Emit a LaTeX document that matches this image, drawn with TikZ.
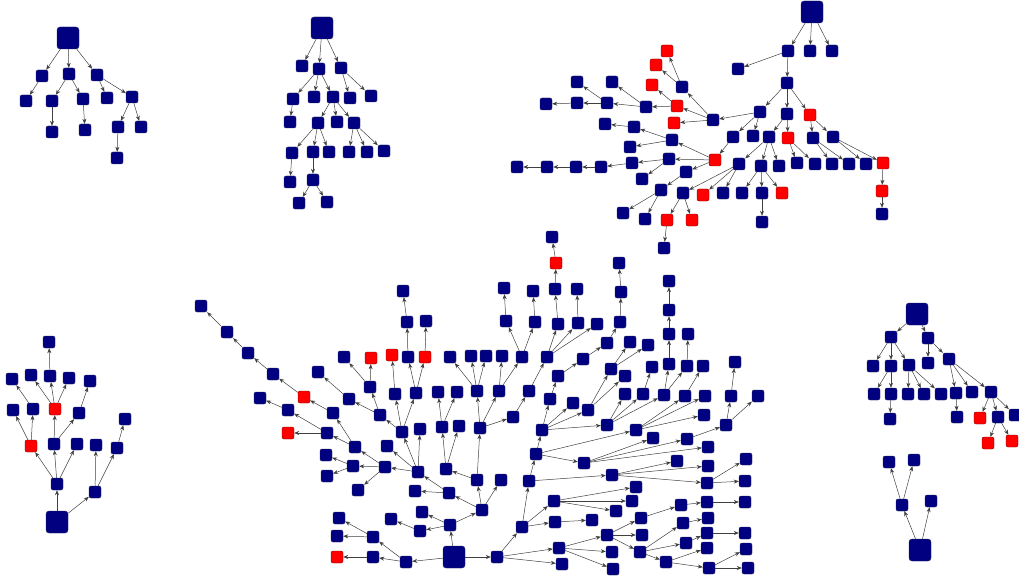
\documentclass[tikz,border=0pt]{standalone}
\usepackage{tikz}
\usetikzlibrary{arrows.meta}
\usepackage{xcolor}
\definecolor{navy}{RGB}{0,0,128}
\definecolor{navyline}{RGB}{40,40,90}
\tikzstyle{vx} = [rectangle, rounded corners=2pt, minimum size=12pt, inner sep=0pt, draw=navyline, line width=0.4pt, fill=navy]
\tikzstyle{vxr} = [vx, draw=red!45!black, fill=red]
\tikzstyle{root} = [vx, minimum size=22pt, rounded corners=3pt]
\tikzstyle{arrow} = [->, >={Stealth[length=5pt,width=4pt]}, draw=black!75, line width=0.5pt]

\begin{document}
\begin{tikzpicture}[x=1pt, y=-1pt]
\useasboundingbox (0,0) rectangle (1019,580);

% top left tree
\node (a0) [root] at (68,38) {};
\node (a1) [vx] at (42,76) {};
\node (a2) [vx] at (69,74) {};
\node (a3) [vx] at (97,75) {};
\node (a4) [vx] at (26,101) {};
\node (a5) [vx] at (52,101) {};
\node (a6) [vx] at (83,99) {};
\node (a7) [vx] at (52,132) {};
\node (a8) [vx] at (85,130) {};
\node (a9) [vx] at (107,98) {};
\node (a10) [vx] at (132,97) {};
\node (a11) [vx] at (118,127) {};
\node (a12) [vx] at (141,127) {};
\node (a13) [vx] at (117,158) {};
\draw [arrow] (a0) -- (a1);
\draw [arrow] (a0) -- (a2);
\draw [arrow] (a0) -- (a3);
\draw [arrow] (a1) -- (a4);
\draw [arrow] (a2) -- (a5);
\draw [arrow] (a2) -- (a6);
\draw [arrow] (a5) -- (a7);
\draw [arrow] (a6) -- (a8);
\draw [arrow] (a3) -- (a9);
\draw [arrow] (a3) -- (a10);
\draw [arrow] (a10) -- (a11);
\draw [arrow] (a10) -- (a12);
\draw [arrow] (a11) -- (a13);

% top middle tree
\node (b0) [root] at (322,28) {};
\node (b1) [vx] at (302,66) {};
\node (b2) [vx] at (319,69) {};
\node (b3) [vx] at (341,68) {};
\node (b4) [vx] at (293,99) {};
\node (b5) [vx] at (314,97) {};
\node (b6) [vx] at (333,97) {};
\node (b7) [vx] at (350,98) {};
\node (b8) [vx] at (371,96) {};
\node (b9) [vx] at (290,122) {};
\node (b10) [vx] at (318,123) {};
\node (b11) [vx] at (337,122) {};
\node (b12) [vx] at (354,123) {};
\node (b13) [vx] at (292,153) {};
\node (b14) [vx] at (313,152) {};
\node (b15) [vx] at (329,152) {};
\node (b16) [vx] at (349,152) {};
\node (b17) [vx] at (367,152) {};
\node (b18) [vx] at (384,151) {};
\node (b19) [vx] at (290,182) {};
\node (b20) [vx] at (313,180) {};
\node (b21) [vx] at (299,203) {};
\node (b22) [vx] at (327,202) {};
\draw [arrow] (b0) -- (b1);
\draw [arrow] (b0) -- (b2);
\draw [arrow] (b0) -- (b3);
\draw [arrow] (b2) -- (b4);
\draw [arrow] (b2) -- (b5);
\draw [arrow] (b2) -- (b6);
\draw [arrow] (b3) -- (b7);
\draw [arrow] (b3) -- (b8);
\draw [arrow] (b4) -- (b9);
\draw [arrow] (b6) -- (b10);
\draw [arrow] (b6) -- (b11);
\draw [arrow] (b6) -- (b12);
\draw [arrow] (b10) -- (b13);
\draw [arrow] (b10) -- (b14);
\draw [arrow] (b10) -- (b15);
\draw [arrow] (b12) -- (b16);
\draw [arrow] (b12) -- (b17);
\draw [arrow] (b12) -- (b18);
\draw [arrow] (b13) -- (b19);
\draw [arrow] (b14) -- (b20);
\draw [arrow] (b20) -- (b21);
\draw [arrow] (b20) -- (b22);

% top right tree
\node (c0) [root] at (812,12) {};
\node (c1) [vx] at (788,51) {};
\node (c2) [vx] at (810,51) {};
\node (c3) [vx] at (832,51) {};
\node (c4) [vx] at (738,69) {};
\node (c5) [vx] at (787,83) {};
\node (c6) [vx] at (760,112) {};
\node (c7) [vx] at (787,114) {};
\node (c8) [vxr] at (810,115) {};
\node (c9) [vx] at (713,120) {};
\node (c10) [vx] at (733,137) {};
\node (c11) [vx] at (753,136) {};
\node (c12) [vx] at (769,137) {};
\node (c13) [vxr] at (788,138) {};
\node (c14) [vx] at (813,138) {};
\node (c15) [vx] at (833,137) {};
\node (c16) [vxr] at (715,160) {};
\node (c17) [vx] at (739,164) {};
\node (c18) [vx] at (761,166) {};
\node (c19) [vx] at (779,166) {};
\node (c20) [vx] at (797,163) {};
\node (c21) [vx] at (815,164) {};
\node (c22) [vx] at (832,164) {};
\node (c23) [vx] at (849,164) {};
\node (c24) [vx] at (866,164) {};
\node (c25) [vxr] at (883,163) {};
\node (c26) [vxr] at (882,191) {};
\node (c27) [vx] at (882,214) {};
\node (c28) [vxr] at (703,195) {};
\node (c29) [vx] at (723,193) {};
\node (c30) [vx] at (683,193) {};
\node (c31) [vx] at (742,193) {};
\node (c32) [vx] at (762,193) {};
\node (c33) [vxr] at (782,193) {};
\node (c34) [vx] at (762,222) {};
\node (c35) [vx] at (682,87) {};
\node (c36) [vxr] at (677,106) {};
\node (c37) [vxr] at (674,123) {};
\node (c38) [vxr] at (667,51) {};
\node (c39) [vxr] at (656,65) {};
\node (c40) [vxr] at (652,85) {};
\node (c41) [vx] at (646,107) {};
\node (c42) [vx] at (607,103) {};
\node (c43) [vx] at (612,82) {};
\node (c44) [vx] at (577,103) {};
\node (c45) [vx] at (577,82) {};
\node (c46) [vx] at (546,104) {};
\node (c47) [vx] at (672,140) {};
\node (c48) [vx] at (669,159) {};
\node (c49) [vx] at (686,172) {};
\node (c50) [vx] at (634,127) {};
\node (c51) [vx] at (630,147) {};
\node (c52) [vx] at (605,124) {};
\node (c53) [vx] at (632,163) {};
\node (c54) [vx] at (642,179) {};
\node (c55) [vx] at (601,167) {};
\node (c56) [vx] at (576,167) {};
\node (c57) [vx] at (547,167) {};
\node (c58) [vx] at (517,167) {};
\node (c59) [vx] at (661,190) {};
\node (c60) [vx] at (623,213) {};
\node (c61) [vx] at (645,219) {};
\node (c62) [vxr] at (667,220) {};
\node (c63) [vxr] at (692,220) {};
\node (c64) [vx] at (664,248) {};
\draw [arrow] (c0) -- (c1);
\draw [arrow] (c0) -- (c2);
\draw [arrow] (c0) -- (c3);
\draw [arrow] (c1) -- (c4);
\draw [arrow] (c1) -- (c5);
\draw [arrow] (c5) -- (c6);
\draw [arrow] (c5) -- (c7);
\draw [arrow] (c5) -- (c8);
\draw [arrow] (c6) -- (c9);
\draw [arrow] (c6) -- (c10);
\draw [arrow] (c6) -- (c11);
\draw [arrow] (c7) -- (c12);
\draw [arrow] (c7) -- (c13);
\draw [arrow] (c8) -- (c14);
\draw [arrow] (c8) -- (c15);
\draw [arrow] (c10) -- (c16);
\draw [arrow] (c12) -- (c17);
\draw [arrow] (c12) -- (c18);
\draw [arrow] (c12) -- (c19);
\draw [arrow] (c13) -- (c20);
\draw [arrow] (c13) -- (c21);
\draw [arrow] (c14) -- (c22);
\draw [arrow] (c14) -- (c23);
\draw [arrow] (c15) -- (c24);
\draw [arrow] (c15) -- (c25);
\draw [arrow] (c25) -- (c26);
\draw [arrow] (c26) -- (c27);
\draw [arrow] (c17) -- (c28);
\draw [arrow] (c17) -- (c29);
\draw [arrow] (c17) -- (c30);
\draw [arrow] (c18) -- (c31);
\draw [arrow] (c18) -- (c32);
\draw [arrow] (c18) -- (c33);
\draw [arrow] (c32) -- (c34);
\draw [arrow] (c9) -- (c35);
\draw [arrow] (c9) -- (c36);
\draw [arrow] (c9) -- (c37);
\draw [arrow] (c35) -- (c38);
\draw [arrow] (c35) -- (c39);
\draw [arrow] (c36) -- (c40);
\draw [arrow] (c36) -- (c41);
\draw [arrow] (c41) -- (c42);
\draw [arrow] (c41) -- (c43);
\draw [arrow] (c42) -- (c44);
\draw [arrow] (c42) -- (c45);
\draw [arrow] (c44) -- (c46);
\draw [arrow] (c16) -- (c47);
\draw [arrow] (c16) -- (c48);
\draw [arrow] (c16) -- (c49);
\draw [arrow] (c47) -- (c50);
\draw [arrow] (c47) -- (c51);
\draw [arrow] (c50) -- (c52);
\draw [arrow] (c48) -- (c53);
\draw [arrow] (c48) -- (c54);
\draw [arrow] (c53) -- (c55);
\draw [arrow] (c55) -- (c56);
\draw [arrow] (c56) -- (c57);
\draw [arrow] (c57) -- (c58);
\draw [arrow] (c49) -- (c59);
\draw [arrow] (c59) -- (c60);
\draw [arrow] (c59) -- (c61);
\draw [arrow] (c30) -- (c62);
\draw [arrow] (c30) -- (c63);
\draw [arrow] (c62) -- (c64);

% bottom left tree
\node (d0) [root] at (57,522) {};
\node (d1) [vx] at (57,484) {};
\node (d2) [vx] at (95,492) {};
\node (d3) [vxr] at (31,446) {};
\node (d4) [vx] at (54,444) {};
\node (d5) [vx] at (77,444) {};
\node (d6) [vx] at (96,445) {};
\node (d7) [vx] at (117,448) {};
\node (d8) [vx] at (125,419) {};
\node (d9) [vx] at (13,410) {};
\node (d10) [vx] at (33,409) {};
\node (d11) [vxr] at (55,409) {};
\node (d12) [vx] at (79,413) {};
\node (d13) [vx] at (90,381) {};
\node (d14) [vx] at (12,379) {};
\node (d15) [vx] at (31,375) {};
\node (d16) [vx] at (50,376) {};
\node (d17) [vx] at (69,378) {};
\node (d18) [vx] at (49,342) {};
\draw [arrow] (d0) -- (d1);
\draw [arrow] (d0) -- (d2);
\draw [arrow] (d1) -- (d3);
\draw [arrow] (d1) -- (d4);
\draw [arrow] (d1) -- (d5);
\draw [arrow] (d2) -- (d6);
\draw [arrow] (d2) -- (d7);
\draw [arrow] (d7) -- (d8);
\draw [arrow] (d3) -- (d9);
\draw [arrow] (d3) -- (d10);
\draw [arrow] (d4) -- (d11);
\draw [arrow] (d4) -- (d12);
\draw [arrow] (d12) -- (d13);
\draw [arrow] (d10) -- (d14);
\draw [arrow] (d11) -- (d15);
\draw [arrow] (d11) -- (d16);
\draw [arrow] (d11) -- (d17);
\draw [arrow] (d16) -- (d18);

% right trees
\node (e0) [root] at (917,314) {};
\node (e1) [vx] at (891,337) {};
\node (e2) [vx] at (928,338) {};
\node (e3) [vx] at (873,366) {};
\node (e4) [vx] at (891,366) {};
\node (e5) [vx] at (909,365) {};
\node (e6) [vx] at (874,394) {};
\node (e7) [vx] at (891,394) {};
\node (e8) [vx] at (890,419) {};
\node (e9) [vx] at (908,394) {};
\node (e10) [vx] at (924,394) {};
\node (e11) [vx] at (941,394) {};
\node (e12) [vx] at (928,363) {};
\node (e13) [vx] at (949,359) {};
\node (e14) [vx] at (956,393) {};
\node (e15) [vx] at (972,392) {};
\node (e16) [vx] at (991,392) {};
\node (e17) [vx] at (957,417) {};
\node (e18) [vxr] at (980,418) {};
\node (e19) [vx] at (998,417) {};
\node (e20) [vx] at (1015,415) {};
\node (e21) [vxr] at (988,443) {};
\node (e22) [vxr] at (1012,441) {};
\draw [arrow] (e0) -- (e1);
\draw [arrow] (e0) -- (e2);
\draw [arrow] (e1) -- (e3);
\draw [arrow] (e1) -- (e4);
\draw [arrow] (e1) -- (e5);
\draw [arrow] (e4) -- (e6);
\draw [arrow] (e4) -- (e7);
\draw [arrow] (e7) -- (e8);
\draw [arrow] (e5) -- (e9);
\draw [arrow] (e5) -- (e10);
\draw [arrow] (e5) -- (e11);
\draw [arrow] (e2) -- (e12);
\draw [arrow] (e2) -- (e13);
\draw [arrow] (e13) -- (e14);
\draw [arrow] (e13) -- (e15);
\draw [arrow] (e13) -- (e16);
\draw [arrow] (e14) -- (e17);
\draw [arrow] (e16) -- (e18);
\draw [arrow] (e16) -- (e19);
\draw [arrow] (e16) -- (e20);
\draw [arrow] (e19) -- (e21);
\draw [arrow] (e19) -- (e22);

\node (f0) [root] at (920,550) {};
\node (f1) [vx] at (902,505) {};
\node (f2) [vx] at (931,501) {};
\node (f3) [vx] at (889,462) {};
\node (f4) [vx] at (914,460) {};
\draw [arrow] (f0) -- (f1);
\draw [arrow] (f0) -- (f2);
\draw [arrow] (f1) -- (f3);
\draw [arrow] (f1) -- (f4);

% big tree in the middle
\node (g0) [root] at (454,557) {};
\node (g1) [vx] at (450,525) {};
\node (g2) [vx] at (406,562) {};
\node (g3) [vx] at (497,557) {};
\node (g4) [vx] at (373,557) {};
\node (g5) [vx] at (373,537) {};
\node (g6) [vxr] at (337,557) {};
\node (g7) [vx] at (337,536) {};
\node (g8) [vx] at (339,518) {};
\node (g9) [vx] at (420,531) {};
\node (g10) [vx] at (422,512) {};
\node (g11) [vx] at (482,510) {};
\node (g12) [vx] at (391,519) {};
\node (g13) [vx] at (449,493) {};
\node (g14) [vx] at (477,480) {};
\node (g15) [vx] at (501,480) {};
\node (g16) [vx] at (415,491) {};
\node (g17) [vx] at (418,472) {};
\node (g18) [vx] at (385,467) {};
\node (g19) [vx] at (387,446) {};
\node (g20) [vx] at (402,432) {};
\node (g21) [vx] at (420,429) {};
\node (g22) [vx] at (353,466) {};
\node (g23) [vx] at (355,447) {};
\node (g24) [vx] at (358,490) {};
\node (g25) [vx] at (326,455) {};
\node (g26) [vx] at (327,476) {};
\node (g27) [vx] at (327,433) {};
\node (g28) [vx] at (333,413) {};
\node (g29) [vxr] at (288,433) {};
\node (g30) [vx] at (288,410) {};
\node (g31) [vx] at (260,398) {};
\node (g32) [vxr] at (304,397) {};
\node (g33) [vx] at (273,374) {};
\node (g34) [vx] at (248,353) {};
\node (g35) [vx] at (227,332) {};
\node (g36) [vx] at (201,306) {};
\node (g37) [vx] at (380,415) {};
\node (g38) [vx] at (395,394) {};
\node (g39) [vx] at (416,393) {};
\node (g40) [vx] at (349,399) {};
\node (g41) [vx] at (370,387) {};
\node (g42) [vx] at (318,372) {};
\node (g43) [vx] at (344,357) {};
\node (g44) [vxr] at (371,358) {};
\node (g45) [vxr] at (392,355) {};
\node (g46) [vx] at (408,357) {};
\node (g47) [vxr] at (425,357) {};
\node (g48) [vx] at (407,322) {};
\node (g49) [vx] at (403,291) {};
\node (g50) [vx] at (426,321) {};
\node (g51) [vx] at (446,469) {};
\node (g52) [vx] at (480,428) {};
\node (g53) [vx] at (442,427) {};
\node (g54) [vx] at (459,426) {};
\node (g55) [vx] at (438,392) {};
\node (g56) [vx] at (457,392) {};
\node (g57) [vx] at (477,391) {};
\node (g58) [vx] at (499,391) {};
\node (g59) [vx] at (513,417) {};
\node (g60) [vx] at (450,357) {};
\node (g61) [vx] at (471,356) {};
\node (g62) [vx] at (486,356) {};
\node (g63) [vx] at (502,356) {};
\node (g64) [vx] at (522,357) {};
\node (g65) [vx] at (506,321) {};
\node (g66) [vx] at (535,322) {};
\node (g67) [vx] at (504,288) {};
\node (g68) [vx] at (533,291) {};
\node (g69) [vx] at (529,391) {};
\node (g70) [vx] at (547,357) {};
\node (g71) [vx] at (558,324) {};
\node (g72) [vx] at (578,323) {};
\node (g73) [vx] at (597,324) {};
\node (g74) [vx] at (555,289) {};
\node (g75) [vxr] at (556,263) {};
\node (g76) [vx] at (552,237) {};
\node (g77) [vx] at (577,289) {};
\node (g78) [vx] at (522,527) {};
\node (g79) [vx] at (559,548) {};
\node (g80) [vx] at (562,564) {};
\node (g81) [vx] at (529,481) {};
\node (g82) [vx] at (554,501) {};
\node (g83) [vx] at (555,522) {};
\node (g84) [vx] at (592,520) {};
\node (g85) [vx] at (536,454) {};
\node (g86) [vx] at (612,475) {};
\node (g87) [vx] at (542,430) {};
\node (g88) [vx] at (584,463) {};
\node (g89) [vx] at (636,430) {};
\node (g90) [vx] at (573,403) {};
\node (g91) [vx] at (588,410) {};
\node (g92) [vx] at (607,425) {};
\node (g93) [vx] at (550,399) {};
\node (g94) [vx] at (558,376) {};
\node (g95) [vx] at (583,359) {};
\node (g96) [vx] at (607,343) {};
\node (g97) [vx] at (620,322) {};
\node (g98) [vx] at (621,292) {};
\node (g99) [vx] at (619,263) {};
\node (g100) [vx] at (611,369) {};
\node (g101) [vx] at (625,376) {};
\node (g102) [vx] at (630,342) {};
\node (g103) [vx] at (648,345) {};
\node (g104) [vx] at (625,394) {};
\node (g105) [vx] at (643,394) {};
\node (g106) [vx] at (664,395) {};
\node (g107) [vx] at (652,367) {};
\node (g108) [vx] at (669,364) {};
\node (g109) [vx] at (687,366) {};
\node (g110) [vx] at (669,334) {};
\node (g111) [vx] at (669,310) {};
\node (g112) [vx] at (669,281) {};
\node (g114) [vx] at (688,334) {};
\node (g115) [vx] at (685,396) {};
\node (g116) [vx] at (705,396) {};
\node (g117) [vx] at (704,415) {};
\node (g118) [vx] at (703,366) {};
\node (g119) [vx] at (653,438) {};
\node (g120) [vx] at (687,439) {};
\node (g121) [vx] at (708,447) {};
\node (g122) [vx] at (726,425) {};
\node (g123) [vx] at (731,396) {};
\node (g124) [vx] at (758,396) {};
\node (g125) [vx] at (735,362) {};
\node (g126) [vx] at (677,461) {};
\node (g127) [vx] at (708,466) {};
\node (g128) [vx] at (707,483) {};
\node (g129) [vx] at (746,459) {};
\node (g130) [vx] at (745,481) {};
\node (g131) [vx] at (636,487) {};
\node (g132) [vx] at (632,501) {};
\node (g133) [vx] at (616,511) {};
\node (g134) [vx] at (607,535) {};
\node (g135) [vx] at (612,552) {};
\node (g136) [vx] at (613,569) {};
\node (g137) [vx] at (641,518) {};
\node (g138) [vx] at (642,535) {};
\node (g139) [vx] at (640,552) {};
\node (g140) [vx] at (681,505) {};
\node (g141) [vx] at (707,502) {};
\node (g142) [vx] at (745,502) {};
\node (g143) [vx] at (683,523) {};
\node (g144) [vx] at (686,543) {};
\node (g145) [vx] at (666,562) {};
\node (g146) [vx] at (708,518) {};
\node (g147) [vx] at (707,533) {};
\node (g148) [vx] at (745,533) {};
\node (g149) [vx] at (707,548) {};
\node (g150) [vx] at (709,568) {};
\node (g151) [vx] at (746,549) {};
\node (g152) [vx] at (748,568) {};
\draw [arrow] (g0) -- (g1);
\draw [arrow] (g0) -- (g2);
\draw [arrow] (g0) -- (g3);
\draw [arrow] (g2) -- (g4);
\draw [arrow] (g2) -- (g5);
\draw [arrow] (g4) -- (g6);
\draw [arrow] (g5) -- (g7);
\draw [arrow] (g5) -- (g8);
\draw [arrow] (g1) -- (g9);
\draw [arrow] (g1) -- (g10);
\draw [arrow] (g1) -- (g11);
\draw [arrow] (g9) -- (g12);
\draw [arrow] (g11) -- (g13);
\draw [arrow] (g11) -- (g14);
\draw [arrow] (g11) -- (g15);
\draw [arrow] (g13) -- (g16);
\draw [arrow] (g13) -- (g17);
\draw [arrow] (g17) -- (g18);
\draw [arrow] (g17) -- (g19);
\draw [arrow] (g17) -- (g20);
\draw [arrow] (g17) -- (g21);
\draw [arrow] (g18) -- (g22);
\draw [arrow] (g18) -- (g23);
\draw [arrow] (g18) -- (g24);
\draw [arrow] (g22) -- (g25);
\draw [arrow] (g22) -- (g26);
\draw [arrow] (g23) -- (g27);
\draw [arrow] (g23) -- (g28);
\draw [arrow] (g27) -- (g29);
\draw [arrow] (g27) -- (g30);
\draw [arrow] (g30) -- (g31);
\draw [arrow] (g28) -- (g32);
\draw [arrow] (g32) -- (g33);
\draw [arrow] (g33) -- (g34);
\draw [arrow] (g34) -- (g35);
\draw [arrow] (g35) -- (g36);
\draw [arrow] (g20) -- (g37);
\draw [arrow] (g20) -- (g38);
\draw [arrow] (g20) -- (g39);
\draw [arrow] (g37) -- (g40);
\draw [arrow] (g37) -- (g41);
\draw [arrow] (g40) -- (g42);
\draw [arrow] (g41) -- (g43);
\draw [arrow] (g41) -- (g44);
\draw [arrow] (g38) -- (g45);
\draw [arrow] (g39) -- (g46);
\draw [arrow] (g39) -- (g47);
\draw [arrow] (g46) -- (g48);
\draw [arrow] (g48) -- (g49);
\draw [arrow] (g47) -- (g50);
\draw [arrow] (g14) -- (g51);
\draw [arrow] (g14) -- (g52);
\draw [arrow] (g51) -- (g53);
\draw [arrow] (g51) -- (g54);
\draw [arrow] (g53) -- (g55);
\draw [arrow] (g53) -- (g56);
\draw [arrow] (g52) -- (g57);
\draw [arrow] (g52) -- (g58);
\draw [arrow] (g52) -- (g59);
\draw [arrow] (g57) -- (g60);
\draw [arrow] (g57) -- (g61);
\draw [arrow] (g57) -- (g62);
\draw [arrow] (g58) -- (g63);
\draw [arrow] (g58) -- (g64);
\draw [arrow] (g64) -- (g65);
\draw [arrow] (g64) -- (g66);
\draw [arrow] (g65) -- (g67);
\draw [arrow] (g66) -- (g68);
\draw [arrow] (g59) -- (g69);
\draw [arrow] (g69) -- (g70);
\draw [arrow] (g70) -- (g71);
\draw [arrow] (g70) -- (g72);
\draw [arrow] (g70) -- (g73);
\draw [arrow] (g71) -- (g74);
\draw [arrow] (g74) -- (g75);
\draw [arrow] (g75) -- (g76);
\draw [arrow] (g72) -- (g77);
\draw [arrow] (g3) -- (g78);
\draw [arrow] (g3) -- (g79);
\draw [arrow] (g3) -- (g80);
\draw [arrow] (g78) -- (g81);
\draw [arrow] (g78) -- (g82);
\draw [arrow] (g78) -- (g83);
\draw [arrow] (g83) -- (g84);
\draw [arrow] (g81) -- (g85);
\draw [arrow] (g81) -- (g86);
\draw [arrow] (g85) -- (g87);
\draw [arrow] (g85) -- (g88);
\draw [arrow] (g85) -- (g89);
\draw [arrow] (g87) -- (g90);
\draw [arrow] (g87) -- (g91);
\draw [arrow] (g87) -- (g92);
\draw [arrow] (g87) -- (g93);
\draw [arrow] (g93) -- (g94);
\draw [arrow] (g94) -- (g95);
\draw [arrow] (g95) -- (g96);
\draw [arrow] (g96) -- (g97);
\draw [arrow] (g97) -- (g98);
\draw [arrow] (g98) -- (g99);
\draw [arrow] (g91) -- (g100);
\draw [arrow] (g91) -- (g101);
\draw [arrow] (g100) -- (g102);
\draw [arrow] (g100) -- (g103);
\draw [arrow] (g92) -- (g104);
\draw [arrow] (g92) -- (g105);
\draw [arrow] (g92) -- (g106);
\draw [arrow] (g105) -- (g107);
\draw [arrow] (g106) -- (g108);
\draw [arrow] (g106) -- (g109);
\draw [arrow] (g108) -- (g110);
\draw [arrow] (g110) -- (g111);
\draw [arrow] (g111) -- (g112);
\draw [arrow] (g109) -- (g114);
\draw [arrow] (g89) -- (g115);
\draw [arrow] (g89) -- (g116);
\draw [arrow] (g89) -- (g117);
\draw [arrow] (g115) -- (g118);
\draw [arrow] (g88) -- (g119);
\draw [arrow] (g88) -- (g120);
\draw [arrow] (g88) -- (g121);
\draw [arrow] (g120) -- (g122);
\draw [arrow] (g122) -- (g123);
\draw [arrow] (g122) -- (g124);
\draw [arrow] (g123) -- (g125);
\draw [arrow] (g86) -- (g126);
\draw [arrow] (g86) -- (g127);
\draw [arrow] (g86) -- (g128);
\draw [arrow] (g128) -- (g129);
\draw [arrow] (g128) -- (g130);
\draw [arrow] (g82) -- (g131);
\draw [arrow] (g82) -- (g132);
\draw [arrow] (g82) -- (g133);
\draw [arrow] (g79) -- (g134);
\draw [arrow] (g79) -- (g135);
\draw [arrow] (g79) -- (g136);
\draw [arrow] (g134) -- (g137);
\draw [arrow] (g134) -- (g138);
\draw [arrow] (g134) -- (g139);
\draw [arrow] (g137) -- (g140);
\draw [arrow] (g140) -- (g141);
\draw [arrow] (g141) -- (g142);
\draw [arrow] (g139) -- (g143);
\draw [arrow] (g139) -- (g144);
\draw [arrow] (g139) -- (g145);
\draw [arrow] (g143) -- (g146);
\draw [arrow] (g144) -- (g147);
\draw [arrow] (g147) -- (g148);
\draw [arrow] (g145) -- (g149);
\draw [arrow] (g145) -- (g150);
\draw [arrow] (g150) -- (g151);
\draw [arrow] (g150) -- (g152);
\end{tikzpicture}
\end{document}
